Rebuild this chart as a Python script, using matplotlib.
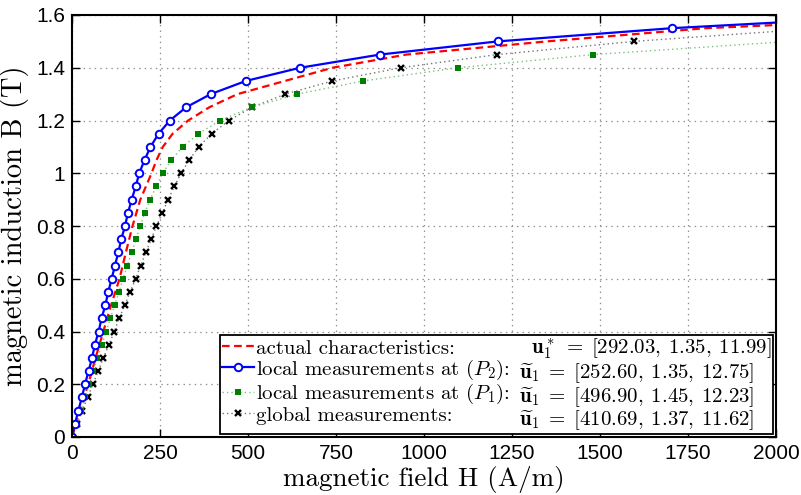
import matplotlib
matplotlib.use("Agg")
import matplotlib.pyplot as plt
from matplotlib.lines import Line2D
from matplotlib.font_manager import FontProperties

plt.rcParams['mathtext.fontset'] = 'cm'
plt.rcParams['lines.scale_dashes'] = False

# ---- data ----
# actual characteristics (red dashed)
B_act = [0.0, 0.1, 0.2, 0.3, 0.4, 0.5, 0.6, 0.7, 0.8, 0.9, 1.0, 1.05, 1.1, 1.15,
         1.2, 1.25, 1.3, 1.35, 1.4, 1.45, 1.5, 1.55, 1.562]
H_act = [0, 23, 46, 67, 89, 111, 135, 153, 172, 194, 226, 240, 258, 286,
         330, 390, 470, 605, 740, 950, 1350, 1800, 2000]

# local measurements at (P2) (blue, circles)
B_p2 = [0.0, 0.05, 0.1, 0.15, 0.2, 0.25, 0.3, 0.35, 0.4, 0.45, 0.5, 0.55, 0.6,
        0.65, 0.7, 0.75, 0.8, 0.85, 0.9, 0.95, 1.0, 1.05, 1.1, 1.15, 1.2, 1.25,
        1.3, 1.35, 1.4, 1.45, 1.5, 1.55, 1.6]
H_p2 = [0, 8.5, 18, 28, 37, 47, 57, 65, 75.6, 84, 94.7, 103, 112.7,
        122, 131.6, 140, 150.6, 159, 169.5, 181, 191, 206, 223, 246, 278, 324,
        394, 494, 648, 875, 1210, 1704, 2400]

# local measurements at (P1) (green, squares)
B_p1 = [0.0, 0.05, 0.1, 0.15, 0.2, 0.25, 0.3, 0.35, 0.4, 0.45, 0.5, 0.55, 0.6,
        0.65, 0.7, 0.75, 0.8, 0.85, 0.9, 0.95, 1.0, 1.05, 1.1, 1.15, 1.2, 1.25,
        1.3, 1.35, 1.4, 1.45, 1.5]
H_p1 = [0, 12, 26.5, 38, 49, 60.6, 72, 84.5, 97.5, 109, 121, 133.5, 145,
        157, 169.5, 182, 194, 207, 222, 239, 258, 282, 314, 359, 421, 510,
        640, 828, 1097, 1481, 2040]

# global measurements (black, crosses)
B_gl = [0.0, 0.05, 0.1, 0.15, 0.2, 0.25, 0.3, 0.35, 0.4, 0.45, 0.5, 0.55, 0.6,
        0.65, 0.7, 0.75, 0.8, 0.85, 0.9, 0.95, 1.0, 1.05, 1.1, 1.15, 1.2, 1.25,
        1.3, 1.35, 1.4, 1.45, 1.5, 1.55]
H_gl = [0, 15, 28.4, 44.5, 59, 75, 89, 105, 120, 134, 150, 165, 181,
        195, 210, 225, 240, 257, 273, 291, 310, 333, 360, 397, 446, 511,
        606, 740, 934, 1208, 1597, 2130]

x_ticks = [0, 250, 500, 750, 1000, 1250, 1500, 1750, 2000]
x_ticklabels = ['0', '250', '500', '750', '1000', '1250', '1500', '1750', '2000']
y_ticks = [0, 0.2, 0.4, 0.6, 0.8, 1.0, 1.2, 1.4, 1.6]
y_ticklabels = ['0', '0.2', '0.4', '0.6', '0.8', '1', '1.2', '1.4', '1.6']

labels_left = ['actual characteristics:',
               'local measurements at $(P_2)$:',
               'local measurements at $(P_1)$:',
               'global measurements:']
labels_right = [r'$\ \ \mathbf{u}_1^*\;=\;[292.03,\:1.35,\:11.99]$',
                r'$\widetilde{\mathbf{u}}_1\;=\;[252.60,\:1.35,\:12.75]$',
                r'$\widetilde{\mathbf{u}}_1\;=\;[496.90,\:1.45,\:12.23]$',
                r'$\widetilde{\mathbf{u}}_1\;=\;[410.69,\:1.37,\:11.62]$']

# ---- styles ----
red_kw = dict(color='#ff0000', lw=1.6, ls=(0, (5.5, 3.2)))
blue_kw = dict(color='#0000ff', lw=1.6, marker='o', ms=5.4, mew=1.4,
               markerfacecolor='white', markeredgecolor='#0000ff')
green_kw = dict(color='#7fc07f', lw=1.0, ls=(0, (1, 2.2)), marker='s', ms=4.4,
                mew=0, markerfacecolor='#008000')
black_kw = dict(color=(0.45, 0.45, 0.45), lw=1.0, ls=(0, (1, 2.2)), marker='x',
                ms=3.9, mew=1.7, markeredgecolor='black')

# ---- figure ----
fig = plt.figure(figsize=(8.01, 4.95), dpi=100)
ax = fig.add_axes([72 / 801, 1 - 437 / 495, 704 / 801, 422 / 495])

ax.plot(H_act, B_act, **red_kw)
ax.plot(H_gl, B_gl, **black_kw)
ax.plot(H_p1, B_p1, **green_kw)
ax.plot(H_p2, B_p2, **blue_kw)

ax.set_xlim(0, 2000)
ax.set_ylim(0, 1.6)
ax.set_xticks(x_ticks)
ax.set_xticklabels(x_ticklabels)
ax.set_yticks(y_ticks)
ax.set_yticklabels(y_ticklabels)
ax.tick_params(direction='in', length=6, width=1.0, top=True, right=True,
               labelsize=15, pad=5)
for lab in ax.get_xticklabels() + ax.get_yticklabels():
    lab.set_fontfamily('Liberation Sans')
for s in ax.spines.values():
    s.set_linewidth(1.5)
ax.grid(True, color=(0.55, 0.55, 0.55), ls=(0, (1, 3)), lw=0.9)
ax.set_axisbelow(True)

ax.set_xlabel('magnetic field H (A/m)', fontfamily='cmr10', fontsize=19.5, labelpad=2)
ax.set_ylabel('magnetic induction B (T)', fontfamily='cmr10', fontsize=20.5, labelpad=5)

blank = [Line2D([], [], ls='none') for _ in range(4)]
handles = [Line2D([], [], **red_kw), Line2D([], [], **blue_kw),
           Line2D([], [], **green_kw), Line2D([], [], **black_kw)]
leg = ax.legend(handles + blank, labels_left + labels_right,
                ncol=2, loc='lower right', bbox_to_anchor=(0.996, 0.006),
                prop=FontProperties(family='cmr10', size=15),
                handlelength=1.55, handletextpad=0.1, columnspacing=-1.25,
                labelspacing=0.0, borderpad=0.1, borderaxespad=0,
                fancybox=False, framealpha=1, edgecolor='black', markerscale=1.0)
leg.get_frame().set_linewidth(1.3)

fig.savefig('out.png', dpi=100)
